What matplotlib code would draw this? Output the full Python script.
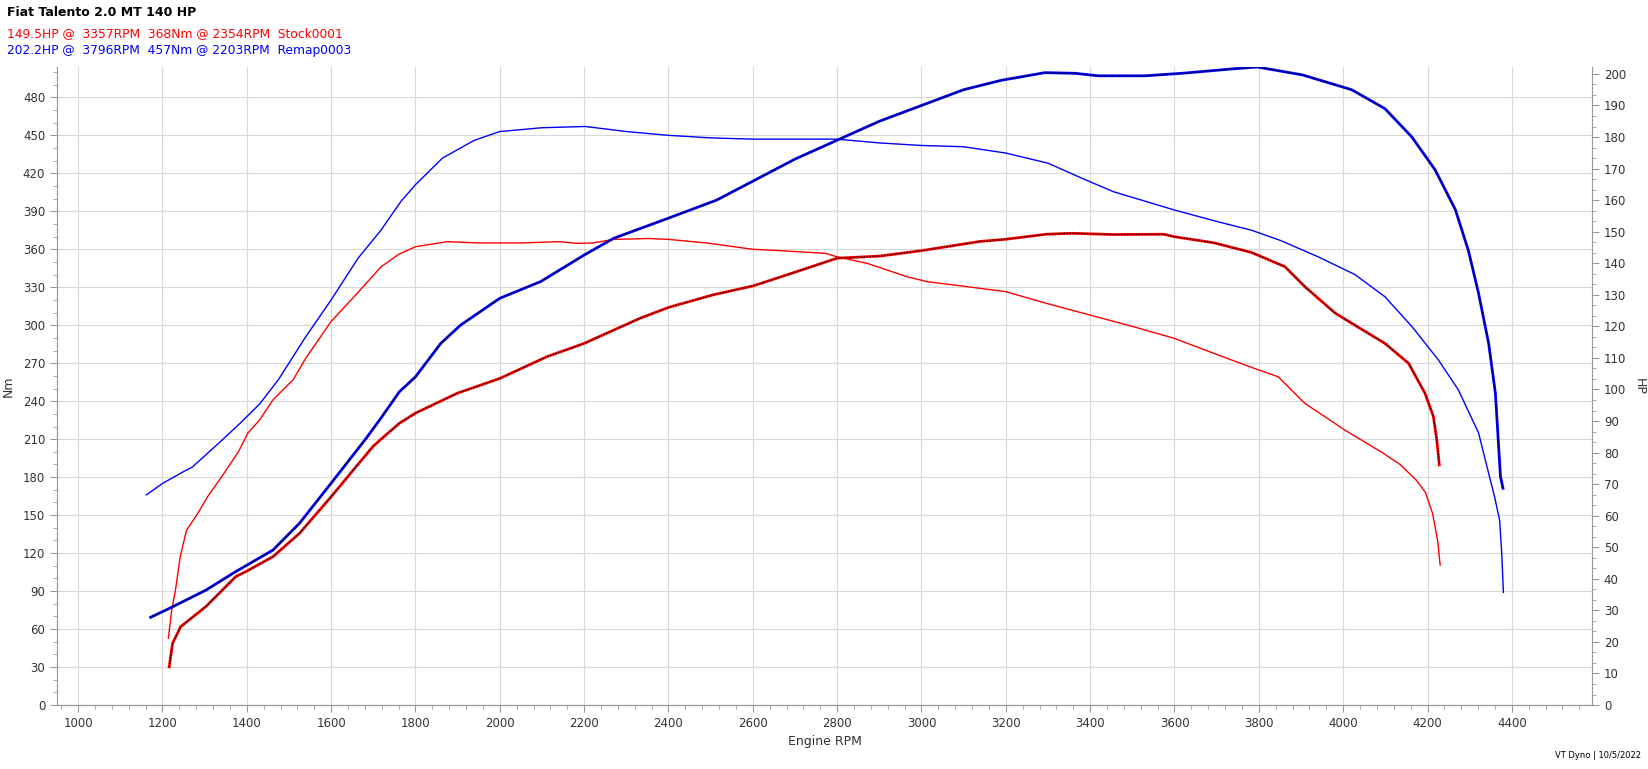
import numpy as np
import matplotlib
matplotlib.use("Agg")
import matplotlib.pyplot as plt
from matplotlib.ticker import MultipleLocator, AutoMinorLocator

# Stock run
stock_rpm_nm = [1214, 1222, 1231, 1242, 1257, 1283, 1307, 1346, 1380, 1394, 1402, 1430, 1462,
                1510, 1540, 1600, 1664, 1718, 1760, 1800, 1875, 1950, 2050, 2141, 2182, 2220,
                2270, 2354, 2400, 2490, 2600, 2665, 2772, 2800, 2871, 2966, 3013, 3077, 3200,
                3296, 3400, 3503, 3600, 3693, 3800, 3846, 3909, 4004, 4093, 4135, 4173, 4195,
                4212, 4224, 4230]
stock_nm = [52.7, 75, 91, 117, 138, 151, 164.5, 183, 200, 209, 214.6, 225, 241,
            257, 274, 303, 326, 346, 356, 362, 366, 365, 365, 366, 364.7, 365,
            367.8, 368.5, 367.8, 365, 360, 358.9, 356.8, 354, 348.9, 338.3, 334.4, 331.8, 326.5,
            317.3, 308, 298.8, 289.6, 277.8, 264.6, 259.3, 238.3, 217.2, 199.3, 190, 177.7, 168,
            151.4, 130, 110.6]
stock_rpm_hp = [1216, 1224, 1243, 1303, 1374, 1398, 1462, 1525, 1600, 1659, 1699, 1718, 1762,
                1800, 1899, 2000, 2112, 2200, 2333, 2400, 2506, 2600, 2669, 2800, 2903, 3000,
                3138, 3200, 3296, 3357, 3455, 3574, 3600, 3693, 3783, 3862, 3909, 3981, 4020,
                4099, 4155, 4194, 4214, 4222, 4228]
stock_hp = [12.1, 19.5, 24.8, 31.2, 40.7, 42.3, 47, 54.4, 66, 75.5, 81.9, 84.2, 89.3,
            92.5, 98.8, 103.5, 110.4, 114.6, 122.6, 126, 130, 132.8, 135.8, 141.6, 142.3, 144,
            146.9, 147.6, 149.2, 149.5, 149.1, 149.2, 148.4, 146.5, 143.4, 138.9, 132.6, 124.2, 121,
            114.6, 108.3, 98.8, 91.4, 84, 76.1]

# Remap run
remap_rpm_nm = [1162, 1200, 1248, 1271, 1334, 1384, 1431, 1475, 1540, 1600, 1664, 1718, 1766,
                1800, 1864, 1939, 2000, 2100, 2203, 2300, 2400, 2500, 2600, 2700, 2800, 2900,
                3000, 3100, 3200, 3300, 3388, 3455, 3600, 3700, 3783, 3851, 3941, 4028, 4099,
                4163, 4226, 4273, 4321, 4345, 4359, 4371, 4376, 4380]
remap_nm = [166, 175, 184, 188, 207, 222.5, 238, 257, 291, 320, 353, 375, 398,
            411, 432, 446, 453, 456, 457, 453, 450, 448, 447, 447, 447, 444,
            442, 441, 436, 428, 415, 405.5, 391, 382, 375, 367, 354, 340, 322.5,
            299, 272.5, 249, 215, 183, 164.5, 146, 120, 89]
remap_rpm_hp = [1172, 1216, 1303, 1374, 1462, 1525, 1600, 1683, 1718, 1762, 1800, 1860, 1907,
                2000, 2097, 2200, 2270, 2400, 2514, 2600, 2700, 2800, 2900, 3000, 3100, 3190,
                3293, 3364, 3420, 3530, 3618, 3729, 3796, 3903, 4020, 4099, 4163, 4218, 4266,
                4297, 4321, 4345, 4361, 4373, 4379]
remap_hp = [27.8, 30.6, 36.4, 42.3, 49.1, 57.6, 70.3, 84.5, 90.9, 99.3, 104, 114.6, 120.4,
            128.9, 134.2, 142.6, 147.9, 154.3, 160, 166, 173, 179, 185, 190, 195, 198,
            200.4, 200.2, 199.4, 199.4, 200.2, 201.5, 202.2, 199.7, 195, 189, 180, 169.6, 157,
            144, 130.5, 114.6, 98.8, 72.4, 68.7]

title = "Fiat Talento 2.0 MT 140 HP"
stock_label = "149.5HP @  3357RPM  368Nm @ 2354RPM  Stock0001"
remap_label = "202.2HP @  3796RPM  457Nm @ 2203RPM  Remap0003"

fig = plt.figure(figsize=(16.48, 7.69), dpi=100)
ax = fig.add_axes([0.0346, 0.0832, 0.9314, 0.8297])
ax2 = ax.twinx()

ax.plot(stock_rpm_nm, stock_nm, color="red", lw=1.0)
ax.plot(remap_rpm_nm, remap_nm, color="blue", lw=1.0)
# HP curves: coloured line with black dots on top
ax2.plot(stock_rpm_hp, stock_hp, color="red", lw=2.0)
ax2.plot(stock_rpm_hp, stock_hp, color="black", lw=0.9, dashes=(1.0, 1.3))
ax2.plot(remap_rpm_hp, remap_hp, color="blue", lw=2.0)
ax2.plot(remap_rpm_hp, remap_hp, color="black", lw=0.9, dashes=(1.0, 1.3))

ax.set_xlim(950, 4590)
ax.set_ylim(0, 504)
ax2.set_ylim(0, 202.2)

ax.xaxis.set_major_locator(MultipleLocator(200))
ax.xaxis.set_minor_locator(MultipleLocator(40))
ax.yaxis.set_major_locator(MultipleLocator(30))
ax.yaxis.set_minor_locator(MultipleLocator(10))
ax2.yaxis.set_major_locator(MultipleLocator(10))
ax2.yaxis.set_minor_locator(AutoMinorLocator(3))

ax.grid(True, which="major", color="#d8d8d8", lw=0.8)
ax.set_axisbelow(True)

for a in (ax, ax2):
    for s in a.spines.values():
        s.set_color("#999999")
    a.spines["top"].set_visible(False)
    a.tick_params(which="both", colors="#999999", labelcolor="#333333", labelsize=8.5)
    a.tick_params(which="major", length=5)
    a.tick_params(which="minor", length=3)
ax.spines["right"].set_visible(False)

ax.set_xlabel("Engine RPM", fontsize=9, color="#333333")
ax.set_ylabel("Nm", fontsize=9, color="#333333", labelpad=6)
ax2.set_ylabel("HP", fontsize=9, color="#333333", rotation=270, labelpad=14)

fig.text(0.0045, 0.984, title, fontsize=9, fontweight="bold", color="black", va="center")
fig.text(0.0045, 0.956, stock_label, fontsize=8.8, color="red", va="center")
fig.text(0.0045, 0.934, remap_label, fontsize=8.8, color="blue", va="center")
fig.text(0.996, 0.017, "VT Dyno | 10/5/2022", fontsize=6, color="black", ha="right", va="center")

fig.savefig("out.png", dpi=100)
